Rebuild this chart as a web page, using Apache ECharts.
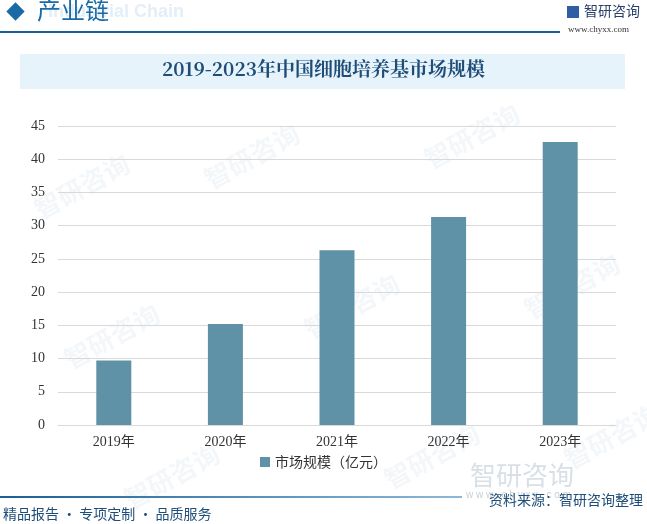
<!DOCTYPE html>
<html>
<head>
<meta charset="utf-8">
<script src="https://cdn.jsdelivr.net/npm/echarts@6/dist/echarts.min.js"></script>
<style>
  html, body { margin: 0; padding: 0; background: #fff; }
  #chart { width: 647px; height: 524px; }
</style>
</head>
<body>
<div id="chart"></div>
<script>
var years = ['2019年', '2020年', '2021年', '2022年', '2023年'];
var marketSize = [9.7, 15.2, 26.3, 31.3, 42.6];
var yTicks = [0, 5, 10, 15, 20, 25, 30, 35, 40, 45];
var seriesName = '市场规模（亿元）';

var chart = echarts.init(document.getElementById('chart'));

// faint watermarks scattered over the plot
var marks = [];
var spots = [[30, 150], [200, 120], [420, 100], [60, 300], [300, 270], [520, 250], [120, 440], [380, 420], [560, 400]];
for (var i = 0; i < spots.length; i++) {
    marks.push({
        type: 'text', left: spots[i][0], top: spots[i][1], rotation: 0.5, z: -1,
        style: { text: '智研咨询', fill: 'rgba(210,222,235,0.25)', font: 'bold 26px "Noto Sans CJK SC"' }
    });
}

chart.setOption({
    animation: false,
    graphic: marks.concat([
        // header
        { type: 'rect', shape: { x: 9, y: 5, width: 13, height: 13 }, rotation: Math.PI / 4, originX: 15.5, originY: 11.5,
          style: { fill: '#1a6aa6' } },
        { type: 'text', left: 48, top: 3, style: { text: 'Industrial Chain', fill: '#e3eef8', font: 'bold 18px Arial' } },
        { type: 'text', left: 37, top: -2, style: { text: '产业链', fill: '#1a6aa6', font: '24px "Noto Sans CJK SC"' } },
        { type: 'rect', shape: { x: 0, y: 31, width: 560, height: 2 }, style: { fill: '#1a5f95' } },
        { type: 'rect', shape: { x: 567, y: 6, width: 12, height: 12 }, style: { fill: '#2e5fa5' } },
        { type: 'text', left: 584, top: 4, style: { text: '智研咨询', fill: '#2b3f6b', font: '14px "Noto Sans CJK SC"' } },
        { type: 'text', left: 568, top: 25, style: { text: 'www.chyxx.com', fill: '#333', font: '9px "Liberation Serif"' } },
        // title band
        { type: 'rect', shape: { x: 20, y: 54, width: 605, height: 35 }, style: { fill: '#e6f3fb' } },
        { type: 'text', left: 'center', top: 59, style: { text: '2019-2023年中国细胞培养基市场规模', fill: '#1e4d78',
          font: 'bold 19px "Noto Serif CJK SC", "Noto Sans CJK SC"' } },
        // footer
        { type: 'rect', shape: { x: 0, y: 496, width: 462, height: 2 },
          style: { fill: new echarts.graphic.LinearGradient(0, 0, 1, 0, [
              { offset: 0, color: '#1a5f95' }, { offset: 1, color: '#8fb8d8' }]) } },
        { type: 'text', left: 470, top: 462, style: { text: '智研咨询', fill: 'rgba(170,185,200,0.45)', font: '26px "Noto Sans CJK SC"' } },
        { type: 'text', left: 466, top: 490, style: { text: 'w w w . c h y x x . c o m', fill: 'rgba(150,160,170,0.5)', font: '10px Arial' } },
        { type: 'text', right: 4, top: 493, style: { text: '资料来源：智研咨询整理', fill: '#1e4d78', font: '14px "Noto Sans CJK SC"' } },
        { type: 'text', left: 3, top: 507, style: { text: '精品报告 · 专项定制 · 品质服务', fill: '#1e4d78', font: '14px "Noto Sans CJK SC"' } }
    ]),
    legend: {
        bottom: 50,
        left: 'center',
        itemWidth: 10,
        itemHeight: 10,
        icon: 'rect',
        textStyle: { color: '#333', fontSize: 14, fontFamily: '"Noto Sans CJK SC"' },
        data: [seriesName]
    },
    grid: { left: 58, right: 31, top: 126, bottom: 99 },
    xAxis: {
        type: 'category',
        data: years,
        axisLine: { lineStyle: { color: '#d9d9d9' } },
        axisTick: { show: false },
        axisLabel: { color: '#333', fontSize: 14, fontFamily: '"Liberation Serif", "Noto Sans CJK SC"', margin: 10 }
    },
    yAxis: {
        type: 'value',
        min: yTicks[0],
        max: yTicks[yTicks.length - 1],
        interval: 5,
        axisLine: { show: false },
        axisTick: { show: false },
        splitLine: { lineStyle: { color: '#d9d9d9' } },
        axisLabel: { color: '#333', fontSize: 14, fontFamily: '"Liberation Serif"', margin: 13 }
    },
    series: [{
        name: seriesName,
        type: 'bar',
        data: marketSize,
        barWidth: 35,
        itemStyle: { color: '#5f91a7' }
    }]
});
</script>
</body>
</html>
